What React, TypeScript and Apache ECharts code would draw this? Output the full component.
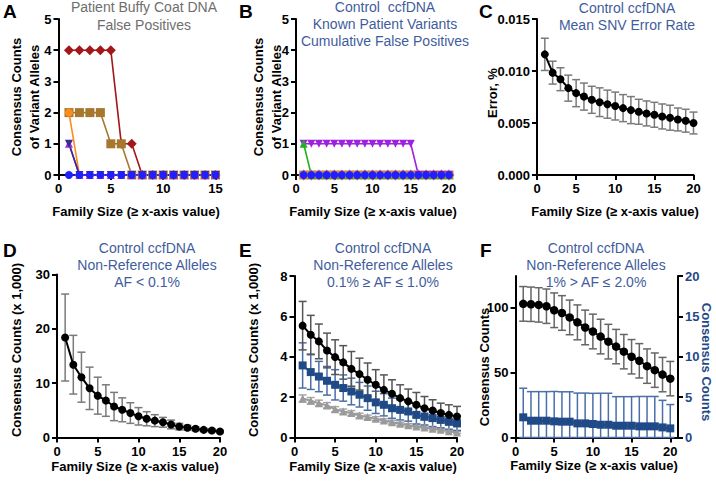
import React, { useEffect, useRef } from 'react';
import * as echarts from 'echarts';

// ---------- data ----------
const familySizeA = [1, 2, 3, 4, 5, 6, 7, 8, 9, 10, 11, 12, 13, 14, 15];
const familySize = [1, 2, 3, 4, 5, 6, 7, 8, 9, 10, 11, 12, 13, 14, 15, 16, 17, 18, 19, 20];

// Panel A: patient buffy coat DNA false positives
const aRed = [4, 4, 4, 4, 4, 1, 1, 0, 0, 0, 0, 0, 0, 0, 0];
const aBrown = [2, 2, 2, 2, 1, 1, 0, 0, 0, 0, 0, 0, 0, 0, 0];
const aOrange = [2, 0, 0, 0, 0, 0, 0, 0, 0, 0, 0, 0, 0, 0, 0];
const aPurple = [1, 0, 0, 0, 0, 0, 0, 0, 0, 0, 0, 0, 0, 0, 0];
const aNavy = [1, 0, 0, 0, 0, 0, 0, 0, 0, 0, 0, 0, 0, 0, 0];
const aBlue = [0, 0, 0, 0, 0, 0, 0, 0, 0, 0, 0, 0, 0, 0, 0];

// Panel B: control ccfDNA, known patient variants
const bRed = [0, 0, 0, 0, 0, 0, 0, 0, 0, 0, 0, 0, 0, 0, 0, 0, 0, 0, 0, 0];
const bBrown = [0, 0, 0, 0, 0, 0, 0, 0, 0, 0, 0, 0, 0, 0, 0, 0, 0, 0, 0, 0];
const bPurple = [1, 1, 1, 1, 1, 1, 1, 1, 1, 1, 1, 1, 1, 1, 1, 0, 0, 0, 0, 0];
const bGreen = [1, 0, 0, 0, 0, 0, 0, 0, 0, 0, 0, 0, 0, 0, 0, 0, 0, 0, 0, 0];
const bBlue = [0, 0, 0, 0, 0, 0, 0, 0, 0, 0, 0, 0, 0, 0, 0, 0, 0, 0, 0, 0];

// Panel C: mean SNV error rate (%)
const cMean = [0.0116, 0.00984, 0.00921, 0.00835, 0.00787, 0.00754, 0.00723, 0.007, 0.00681, 0.00663,
  0.00643, 0.00624, 0.00608, 0.00592, 0.00579, 0.00563, 0.00551, 0.00534, 0.00522, 0.005];
const cErr = [0.00155, 0.0011, 0.0011, 0.00125, 0.0013, 0.0013, 0.0013, 0.00138, 0.00135, 0.00134,
  0.0013, 0.0013, 0.0012, 0.0012, 0.0012, 0.0012, 0.0012, 0.0011, 0.0011, 0.00105];

// Panel D: AF < 0.1% (x 1,000)
const dMean = [18.4, 13.4, 11.1, 9.05, 7.7, 6.8, 5.7, 5.1, 4.5, 3.9, 3.45, 3.1, 2.8, 2.4, 2.0, 1.8, 1.6, 1.4, 1.3, 1.1];
const dErr = [8.0, 5.4, 4.6, 3.9, 3.4, 2.9, 2.6, 2.2, 1.9, 1.6, 1.3, 1.1, 0.9, 0.8, 0.6, 0.45, 0.35, 0.3, 0.25, 0.2];

// Panel E: 0.1% - 1.0% (x 1,000)
const eBlack = [5.54, 5.09, 4.76, 4.31, 3.98, 3.72, 3.4, 3.14, 2.86, 2.61, 2.36, 2.17, 1.95, 1.79, 1.62, 1.45, 1.34, 1.21, 1.12, 1.04];
const eBlackErr = [1.2, 0.96, 0.86, 0.86, 0.86, 0.83, 0.86, 0.79, 0.83, 0.75, 0.74, 0.69, 0.66, 0.61, 0.61, 0.58, 0.53, 0.49, 0.5, 0.5];
const eBlue = [3.57, 3.24, 3.02, 2.81, 2.61, 2.45, 2.28, 2.12, 1.95, 1.74, 1.62, 1.45, 1.37, 1.29, 1.12, 1.04, 0.96, 0.88, 0.79, 0.71];
const eBlueErr = [1.12, 0.86, 0.75, 0.71, 0.75, 0.65, 0.66, 0.61, 0.6, 0.55, 0.55, 0.5, 0.5, 0.48, 0.45, 0.42, 0.42, 0.4, 0.38, 0.36];
const eGray = [1.93, 1.82, 1.7, 1.59, 1.4, 1.29, 1.21, 1.09, 1.01, 0.93, 0.84, 0.76, 0.68, 0.61, 0.55, 0.5, 0.43, 0.38, 0.31, 0.25];
const eGrayErr = [0.18, 0.16, 0.15, 0.14, 0.13, 0.12, 0.12, 0.11, 0.1, 0.1, 0.09, 0.09, 0.08, 0.08, 0.07, 0.07, 0.06, 0.06, 0.05, 0.05];

// Panel F: 1% - 2.0%
const fBlack = [102.6, 102.3, 101.8, 100.8, 97.7, 95.6, 92.2, 88.4, 84.5, 81.4, 77.5, 73.6, 69.8, 65.9, 62.0, 58.9, 54.8, 51.7, 48.3, 45.2];
const fBlackErr = [13.3, 13.2, 13.2, 13.2, 13.3, 13.3, 13.3, 13.4, 13.3, 13.3, 13.3, 13.3, 13.2, 13.2, 13.2, 13.2, 13.2, 13.2, 13.2, 13.2];
const fBlue = [2.5, 2.08, 2.08, 2.08, 2.0, 1.96, 1.96, 1.75, 1.75, 1.67, 1.58, 1.58, 1.46, 1.46, 1.46, 1.38, 1.38, 1.38, 1.25, 1.13];
const fBlueErr = [3.6, 3.6, 3.6, 3.6, 3.7, 3.7, 3.7, 3.75, 3.75, 3.8, 3.9, 3.9, 3.6, 3.6, 3.6, 3.7, 3.7, 3.7, 3.35, 2.95];

// tick values
const xTicks = [0, 5, 10, 15, 20];
const fLeftTicks = [0, 50, 100];

// ---------- style ----------
const FONT = 'Arial, "Liberation Sans", Helvetica, sans-serif';
const TITLE_BLUE = '#3f5d9c';
const NAVY = '#1f4a87';

function valueAxis(gridIndex: number, min: number, max: number, interval: number, extra: any = {}) {
  const { labelColor, lineColor, customValues, formatter, ...rest } = extra;
  const axisLabel: any = {
    color: labelColor || '#000', fontWeight: 'bold', fontSize: 13, fontFamily: FONT, margin: 7,
  };
  const axisTick: any = { show: true, length: 5, lineStyle: { color: lineColor || '#000', width: 2 } };
  if (customValues) { axisLabel.customValues = customValues; axisTick.customValues = customValues; }
  if (formatter) axisLabel.formatter = formatter;
  return {
    type: 'value', gridIndex, min, max, interval,
    axisLine: { show: true, onZero: false, lineStyle: { color: lineColor || '#000', width: 2 } },
    axisTick, axisLabel,
    splitLine: { show: false },
    ...rest,
  };
}

function lineSeries(idx: number, xs: number[], ys: number[], color: string, symbol: string, size: number, extra: any = {}) {
  return {
    type: 'line', xAxisIndex: idx, yAxisIndex: extra.yAxisIndex ?? idx,
    data: xs.map((x, i) => [x, ys[i]]),
    symbol, symbolSize: size, symbolRotate: extra.rotate || 0,
    showAllSymbol: true, clip: false,
    lineStyle: { color, width: extra.lw || 1.6 },
    itemStyle: { color, opacity: 1 },
    z: extra.z || 3, silent: true,
  };
}

function errSeries(idx: number, xs: number[], means: number[], errs: number[], color: string, extra: any = {}) {
  const cap = 4;
  return {
    type: 'custom', xAxisIndex: idx, yAxisIndex: extra.yAxisIndex ?? idx,
    data: xs.map((x, i) => [x, Math.max(0, means[i] - errs[i]), means[i] + errs[i]]),
    encode: { x: 0, y: [1, 2] },
    z: 2, silent: true,
    renderItem: (_p: any, api: any) => {
      const x = api.value(0);
      const top = api.coord([x, api.value(2)]);
      const bot = api.coord([x, api.value(1)]);
      const st = { stroke: color, lineWidth: 1.5 };
      return {
        type: 'group',
        children: [
          { type: 'line', shape: { x1: top[0], y1: top[1], x2: bot[0], y2: bot[1] }, style: st },
          { type: 'line', shape: { x1: top[0] - cap, y1: top[1], x2: top[0] + cap, y2: top[1] }, style: st },
          { type: 'line', shape: { x1: bot[0] - cap, y1: bot[1], x2: bot[0] + cap, y2: bot[1] }, style: st },
        ],
      };
    },
  };
}

function text(x: number, y: number, str: string, opts: any = {}) {
  return {
    type: 'text', x, y, rotation: opts.rotation || 0, silent: true,
    style: {
      text: str,
      font: opts.font || `14px ${FONT}`,
      fill: opts.fill || '#000',
      textAlign: opts.align || 'center',
      textVerticalAlign: 'middle',
      lineHeight: opts.lineHeight || 17,
    },
  };
}

export default function App() {
  const ref = useRef<HTMLDivElement>(null);
  useEffect(() => {
    if (!ref.current) return;
    const chart = echarts.init(ref.current, undefined, { renderer: 'svg' });
    const bold13 = `bold 13px ${FONT}`;
    const letter = `bold 19px ${FONT}`;
    const option: any = {
      animation: false,
      backgroundColor: '#fff',
      grid: [
        { left: 58.5, top: 19, width: 157, height: 156 },
        { left: 296, top: 19, width: 153, height: 156 },
        { left: 537, top: 19, width: 156.5, height: 156 },
        { left: 57, top: 274.5, width: 163, height: 163 },
        { left: 294.5, top: 276, width: 162.5, height: 161.5 },
        { left: 515.5, top: 276, width: 162.5, height: 161.5 },
      ],
      xAxis: [
        valueAxis(0, 0, 15, 5),
        valueAxis(1, 0, 20, 5),
        valueAxis(2, 0, 20, 5),
        valueAxis(3, 0, 20, 5),
        valueAxis(4, 0, 20, 5),
        valueAxis(5, 0, 21, 5, { customValues: xTicks }),
      ],
      yAxis: [
        valueAxis(0, 0, 5, 1),
        valueAxis(1, 0, 5, 1),
        valueAxis(2, 0, 0.015, 0.005, { formatter: (v: number) => v.toFixed(3) }),
        valueAxis(3, 0, 30, 10),
        valueAxis(4, 0, 8, 2),
        valueAxis(5, 0, 124, 50, { customValues: fLeftTicks }),
        valueAxis(5, 0, 20, 5, { position: 'right', labelColor: NAVY }),
      ],
      series: [
        // A
        lineSeries(0, familySizeA, aRed, '#a3161a', 'diamond', 10),
        lineSeries(0, familySizeA, aBrown, '#a6782f', 'rect', 9),
        lineSeries(0, familySizeA, aOrange, '#ff8c1a', 'circle', 8),
        lineSeries(0, familySizeA, aPurple, '#9a2fd6', 'triangle', 8),
        lineSeries(0, familySizeA, aNavy, '#3a2a9a', 'triangle', 8, { rotate: 180 }),
        lineSeries(0, familySizeA, aBlue, '#1f1fff', 'circle', 8),
        // B
        lineSeries(1, familySize, bRed, '#c0392b', 'diamond', 11),
        lineSeries(1, familySize, bBrown, '#d08a50', 'rect', 9),
        lineSeries(1, familySize, bPurple, '#a020e0', 'triangle', 8, { rotate: 180 }),
        lineSeries(1, familySize, bGreen, '#22b022', 'triangle', 8),
        lineSeries(1, familySize, bBlue, '#1f1fff', 'circle', 8),
        // C
        errSeries(2, familySize, cMean, cErr, '#7a7a7a'),
        lineSeries(2, familySize, cMean, '#000', 'circle', 8, { lw: 2 }),
        // D
        errSeries(3, familySize, dMean, dErr, '#7a7a7a'),
        lineSeries(3, familySize, dMean, '#000', 'circle', 8, { lw: 2 }),
        // E
        errSeries(4, familySize, eGray, eGrayErr, '#a8a8a8'),
        lineSeries(4, familySize, eGray, '#9a9a9a', 'triangle', 8, { lw: 2 }),
        errSeries(4, familySize, eBlue, eBlueErr, '#4a6ea8'),
        lineSeries(4, familySize, eBlue, NAVY, 'rect', 8, { lw: 2 }),
        errSeries(4, familySize, eBlack, eBlackErr, '#555'),
        lineSeries(4, familySize, eBlack, '#000', 'circle', 8, { lw: 2 }),
        // F
        errSeries(5, familySize, fBlack, fBlackErr, '#666'),
        lineSeries(5, familySize, fBlack, '#000', 'circle', 8.5, { lw: 2 }),
        errSeries(5, familySize, fBlue, fBlueErr, '#4a6ea8', { yAxisIndex: 6 }),
        lineSeries(5, familySize, fBlue, NAVY, 'rect', 8, { lw: 2, yAxisIndex: 6 }),
      ],
      graphic: [
        // panel letters
        text(3, 11, 'A', { font: letter, align: 'left' }),
        text(239, 11, 'B', { font: letter, align: 'left' }),
        text(479, 11, 'C', { font: letter, align: 'left' }),
        text(3, 250, 'D', { font: letter, align: 'left' }),
        text(239, 250, 'E', { font: letter, align: 'left' }),
        text(480, 250, 'F', { font: letter, align: 'left' }),
        // titles
        text(144, 16, 'Patient Buffy Coat DNA\nFalse Positives', { fill: '#6e6e6e', lineHeight: 17.5 }),
        text(385, 24, 'Control  ccfDNA\nKnown Patient Variants\nCumulative False Positives', { fill: TITLE_BLUE }),
        text(627, 16, 'Control ccfDNA\nMean SNV Error Rate', { fill: TITLE_BLUE }),
        text(147, 265, 'Control ccfDNA\nNon-Reference Alleles\nAF < 0.1%', { fill: TITLE_BLUE }),
        text(383, 265, 'Control ccfDNA\nNon-Reference Alleles\n0.1% ≥ AF ≤ 1.0%', { fill: TITLE_BLUE }),
        text(596, 264.5, 'Control ccfDNA\nNon-Reference Alleles\n1% > AF ≤ 2.0%', { fill: TITLE_BLUE }),
        // x axis names
        text(136, 211, 'Family Size (≥ x-axis value)', { font: bold13 }),
        text(373, 211, 'Family Size (≥ x-axis value)', { font: bold13 }),
        text(615, 211, 'Family Size (≥ x-axis value)', { font: bold13 }),
        text(135, 466, 'Family Size (≥ x-axis value)', { font: bold13 }),
        text(373, 466, 'Family Size (≥ x-axis value)', { font: bold13 }),
        text(594, 465, 'Family Size (≥ x-axis value)', { font: bold13 }),
        // y axis names
        text(25, 97, 'Consensus Counts\nof Variant Alleles', { font: bold13, rotation: Math.PI / 2, lineHeight: 18 }),
        text(267, 97, 'Consensus Counts\nof Variant Alleles', { font: bold13, rotation: Math.PI / 2, lineHeight: 18 }),
        text(492, 93, 'Error, %', { font: bold13, rotation: Math.PI / 2 }),
        text(16, 350, 'Consensus Counts (x 1,000)', { font: bold13, rotation: Math.PI / 2 }),
        text(253, 350, 'Consensus Counts (x 1,000)', { font: bold13, rotation: Math.PI / 2 }),
        text(484, 367, 'Consensus Counts', { font: bold13, rotation: Math.PI / 2 }),
        text(706, 362, 'Consensus Counts', { font: bold13, rotation: -Math.PI / 2, fill: NAVY }),
      ],
    };
    chart.setOption(option);
    return () => chart.dispose();
  }, []);
  return (
    <div
      ref={ref}
      style={{ position: 'fixed', left: 0, top: 0, width: 716, height: 484, background: '#fff' }}
    />
  );
}
